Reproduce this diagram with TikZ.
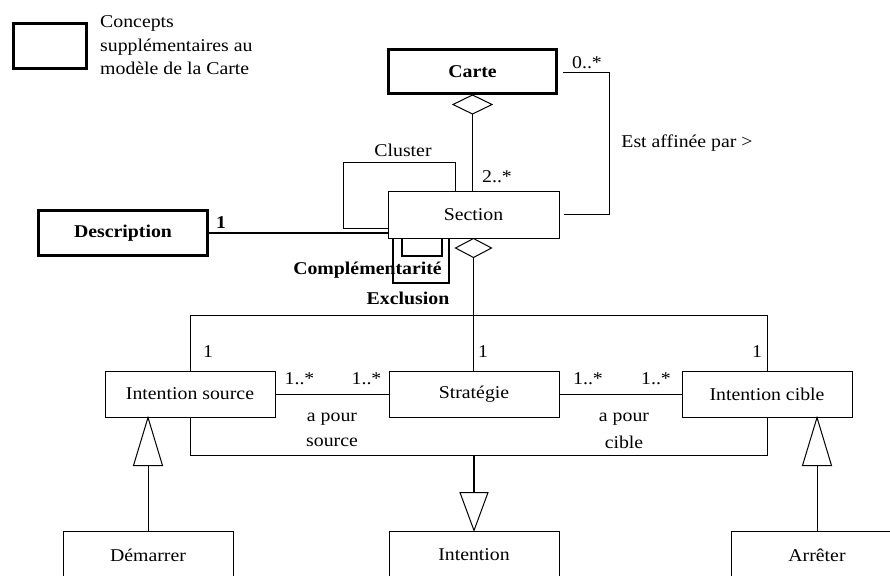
\documentclass[tikz,border=0pt]{standalone}
\usepackage{fontspec}
\setmainfont{Liberation Serif}[FakeStretch=1.1]
\usetikzlibrary{calc}
\begin{document}
\begin{tikzpicture}[x=1pt,y=-1pt,
  every node/.style={font=\fontsize{18}{21}\selectfont},
  box/.style={draw, line width=1pt, rectangle, inner sep=0pt, minimum width=170pt, minimum height=46pt},
  tbox/.style={draw, line width=3pt, rectangle, inner sep=0pt, minimum width=168pt, minimum height=44pt, font=\fontsize{18}{21}\selectfont\bfseries},
  lbl/.style={inner sep=0pt},
  blbl/.style={inner sep=0pt, font=\fontsize{18}{21}\selectfont\bfseries},
  conn/.style={line width=1pt},
  tconn/.style={line width=2.8pt}
]
\useasboundingbox (0,0) rectangle (890,575);
\clip (0,0) rectangle (890,575);

% legend
\node[tbox, minimum width=73pt, minimum height=45pt] (legend) at (50,46) {};
\node[lbl, anchor=base west] (leg1) at (100,28) {Concepts};
\node[lbl, anchor=base west] (leg2) at (100,52) {supplémentaires au};
\node[lbl, anchor=base west] (leg3) at (100,75) {modèle de la Carte};

% classes
\node[tbox] (Carte) at (472.5,71.5) {Carte};
\node[box, minimum width=171pt, minimum height=47pt] (Section) at (473.5,214.5) {Section};
\node[tbox, minimum width=169pt, minimum height=45pt] (Desc) at (123,233) {Description};
\node[box] (Isrc) at (190,394) {Intention source};
\node[box] (Strat) at (474,394) {Stratégie};
\node[box] (Icib) at (767,394) {Intention cible};
\node[box, minimum height=48pt] (Dem) at (148,555) {Démarrer};
\node[box, minimum height=48pt] (Int) at (474,555) {Intention};
\node[box, minimum width=172pt, minimum height=48pt] (Arr) at (817,555) {Arrêter};

% Carte <>-- Section
\draw[conn, fill=white] (Carte.south) -- ++(19.5,9.5) -- ++(-19.5,9.5) coordinate (dc) -- ++(-19.5,-9.5) -- cycle;
\draw[conn] (dc) -- (dc |- Section.north);
\node[lbl] (m2) at (497,177) {2..*};

% Cluster self loop
\coordinate (cl1) at ([xshift=-18.5pt]Section.north);
\draw[conn] (cl1) |- (343,162) |- (Section.west |- 0,228);
\node[lbl] (clu) at (403,150) {Cluster};

% Est affinee par
\draw[conn] ([xshift=5pt,yshift=-1.5pt]Carte.east) -| (609,214) -- ([xshift=4pt,yshift=0.5pt]Section.east);
\node[lbl] (m0) at (587,63) {0..*};
\node[lbl] (eap) at (687,143) {Est affinée par >};

% Description -- Section
\draw[tconn] (Desc.east) -- (Desc.east -| Section.west);
\node[blbl] (d1) at (221,223) {1};

% Complementarite / Exclusion loops
\coordinate (cp1) at ([xshift=-71.5pt]Section.south);
\coordinate (cp2) at ([xshift=-31.5pt]Section.south);
\coordinate (ex1) at ([xshift=-80.5pt]Section.south);
\coordinate (ex2) at ([xshift=-24.5pt]Section.south);
\draw[tconn] (cp1) -- (cp1 |- 0,256) -| (cp2);
\draw[tconn] (ex1) -- (ex1 |- 0,283) -| (ex2);
\node[blbl] (comp) at (367.5,270) {Complémentarité};
\node[blbl] (excl) at (408,298) {Exclusion};

% Section <>-- Intention source / Strategie / Intention cible
\draw[conn, fill=white] (Section.south) -- ++(18,9.5) -- ++(-18,9.5) coordinate (ds) -- ++(-18,-9.5) -- cycle;
\draw[conn] (ds) -- (ds |- Strat.north);
\draw[conn] (Isrc.north) -- (Isrc.north |- 0,315) -- (Icib.north |- 0,315) -- (Icib.north);
\node[lbl] (o1) at (208,352) {1};
\node[lbl] (o2) at (483,352) {1};
\node[lbl] (o3) at (757,352) {1};

% a pour source / a pour cible
\draw[conn] (Isrc.east) -- (Strat.west);
\draw[conn] (Strat.east) -- (Icib.west);
\node[lbl] (n1) at (299.5,379) {1..*};
\node[lbl] (n2) at (366.5,379) {1..*};
\node[lbl] (n3) at (588,379) {1..*};
\node[lbl] (n4) at (656,379) {1..*};
\node[lbl] (aps1) at (332,419) {a pour};
\node[lbl] (aps2) at (332,442) {source};
\node[lbl] (apc1) at (624,419) {a pour};
\node[lbl] (apc2) at (624,442) {cible};

% association class generalization to Intention
\draw[conn] (Isrc.south) -- (Isrc.south |- 0,455) -- (Icib.south |- 0,455) -- (Icib.south);
\draw[conn, fill=white] (Int.north) -- ++(-14,-38) coordinate (ti) -- ++(28,0) -- cycle;
\draw[line width=1.6pt] (Int.north |- 0,455) -- (Int.north |- ti);

% Demarrer -> Intention source
\draw[conn, fill=white] (Dem.north |- Isrc.south) -- ++(14.5,48) -- ++(-29,0) coordinate (tl) -- cycle;
\draw[conn] (Dem.north) -- (Dem.north |- tl);

% Arreter -> Intention cible
\draw[conn, fill=white] (Arr.north |- Icib.south) -- ++(14.5,48) -- ++(-29,0) coordinate (tr) -- cycle;
\draw[conn] (Arr.north) -- (Arr.north |- tr);
\end{tikzpicture}
\end{document}
